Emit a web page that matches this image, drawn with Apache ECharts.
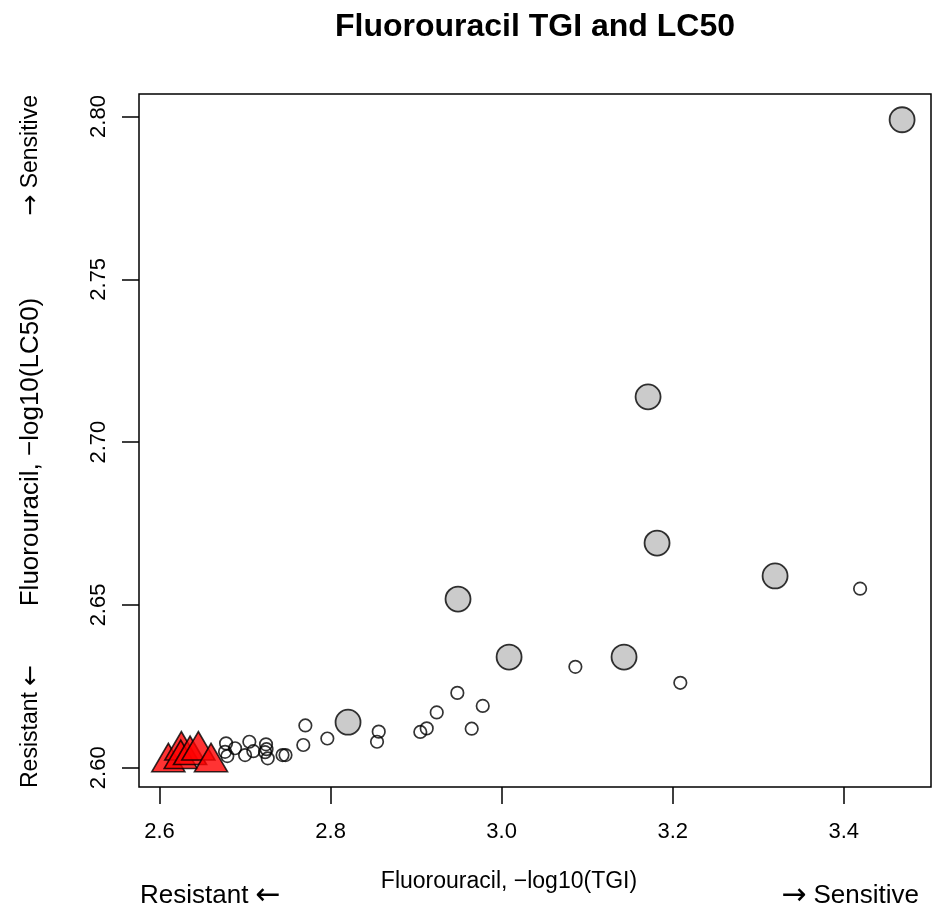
<!DOCTYPE html>
<html>
<head>
<meta charset="utf-8">
<script src="https://cdn.jsdelivr.net/npm/echarts@6/dist/echarts.min.js"></script>
<style>
  html, body { margin: 0; padding: 0; background: #ffffff; }
  #chart { width: 933px; height: 921px; }
</style>
</head>
<body>
<div id="chart"></div>
<script>
// Fluorouracil response: -log10(TGI) on x, -log10(LC50) on y
const resistantTGI  = [2.6103, 2.6255, 2.6248, 2.6357, 2.6454, 2.6602];
const resistantLC50 = [2.6017, 2.6053, 2.6027, 2.6039, 2.6053, 2.6017];

const middleTGI  = [3.4191, 3.0862, 3.2089, 2.9482, 2.9779, 2.9241, 2.9650, 2.9124, 2.9049,
                    2.8563, 2.8543, 2.7962, 2.7705, 2.7681, 2.7438, 2.7473, 2.7245, 2.7251,
                    2.7265, 2.7234, 2.7097, 2.7050, 2.7000, 2.6883, 2.6778, 2.6793, 2.6766];
const middleLC50 = [2.6550, 2.6310, 2.6261, 2.6230, 2.6190, 2.6170, 2.6120, 2.6121, 2.6110,
                    2.6111, 2.6080, 2.6090, 2.6130, 2.6070, 2.6039, 2.6039, 2.6072, 2.6057,
                    2.6029, 2.6048, 2.6051, 2.6080, 2.6039, 2.6060, 2.6075, 2.6036, 2.6049];

const sensitiveTGI  = [3.4682, 3.1712, 3.1817, 3.3197, 2.9490, 3.0087, 3.1431, 2.8204];
const sensitiveLC50 = [2.7990, 2.7139, 2.6690, 2.6589, 2.6518, 2.6340, 2.6340, 2.6140];

const xTicks = [2.6, 2.8, 3.0, 3.2, 3.4];
const yTicks = [2.60, 2.65, 2.70, 2.75, 2.80];

const FONT = '"Liberation Sans", Arial, Helvetica, sans-serif';
const ARROW_FONT = '"DejaVu Sans", sans-serif';

function pairs(xs, ys) { return xs.map((x, i) => [x, ys[i]]); }

// label with a long arrow glyph set in a font that draws it full width
function arrowText(x, y, rot, align, word, arrowFirst, size, arrowSize) {
  const arrow = arrowFirst ? '\u2192' : '\u2190';
  const text = arrowFirst ? '{a|' + arrow + '} ' + word : word + ' {a|' + arrow + '}';
  return {
    type: 'text', x: x, y: y, rotation: rot,
    style: {
      text: text, fill: '#000000', font: size + 'px ' + FONT,
      textAlign: align, textVerticalAlign: 'middle',
      rich: { a: { fontFamily: ARROW_FONT, fontSize: arrowSize, fill: '#000000' } }
    }
  };
}

const chart = echarts.init(document.getElementById('chart'), null, { renderer: 'canvas' });

chart.setOption({
  backgroundColor: '#ffffff',
  animation: false,
  grid: {
    left: 139, top: 94, width: 792, height: 693,
    show: true, borderColor: '#000000', borderWidth: 1.5,
    backgroundColor: 'transparent'
  },
  xAxis: {
    type: 'value', min: 2.576, max: 3.502,
    axisLine: { show: false },
    splitLine: { show: false },
    axisTick: { show: true, inside: false, length: 17, customValues: xTicks,
                lineStyle: { color: '#000000', width: 1.5 } },
    axisLabel: { show: true, customValues: xTicks, margin: 34, color: '#000000',
                 fontFamily: FONT, fontSize: 22,
                 formatter: v => v.toFixed(1) }
  },
  yAxis: {
    type: 'value', min: 2.5941, max: 2.8069,
    axisLine: { show: false },
    splitLine: { show: false },
    axisTick: { show: true, inside: false, length: 17, customValues: yTicks,
                lineStyle: { color: '#000000', width: 1.5 } },
    axisLabel: { show: true, customValues: yTicks, margin: 29, rotate: 90, color: '#000000',
                 fontFamily: FONT, fontSize: 22,
                 formatter: v => v.toFixed(2) }
  },
  series: [
    {
      name: 'Resistant', type: 'scatter',
      data: pairs(resistantTGI, resistantLC50),
      symbol: 'triangle', symbolSize: [33, 28.4], symbolOffset: [0, -4.7],
      itemStyle: { color: '#ff0000', borderColor: '#000000', borderWidth: 1.6 },
      z: 2
    },
    {
      name: 'Intermediate', type: 'scatter',
      data: pairs(middleTGI, middleLC50),
      symbol: 'circle', symbolSize: 12.5,
      itemStyle: { color: 'rgba(0,0,0,0)', borderColor: '#000000', borderWidth: 1.7 },
      z: 3
    },
    {
      name: 'Sensitive', type: 'scatter',
      data: pairs(sensitiveTGI, sensitiveLC50),
      symbol: 'circle', symbolSize: 25,
      itemStyle: { color: '#bebebe', borderColor: '#000000', borderWidth: 1.8 },
      z: 4
    }
  ],
  graphic: [
    { type: 'text', x: 535, y: 27,
      style: { text: 'Fluorouracil TGI and LC50', fill: '#000000', font: 'bold 32px ' + FONT,
               textAlign: 'center', textVerticalAlign: 'middle' } },
    { type: 'text', x: 509, y: 882,
      style: { text: 'Fluorouracil, \u2212log10(TGI)', fill: '#000000', font: '23px ' + FONT,
               textAlign: 'center', textVerticalAlign: 'middle' } },
    arrowText(140, 896, 0, 'left', 'Resistant', false, 26, 30),
    arrowText(919, 896, 0, 'right', 'Sensitive', true, 26, 30),
    { type: 'text', x: 31, y: 452, rotation: Math.PI / 2,
      style: { text: 'Fluorouracil, \u2212log10(LC50)', fill: '#000000', font: '26px ' + FONT,
               textAlign: 'center', textVerticalAlign: 'middle' } },
    arrowText(31, 788, Math.PI / 2, 'left', 'Resistant', false, 23, 25),
    arrowText(31, 95, Math.PI / 2, 'right', 'Sensitive', true, 23, 25)
  ]
});
</script>
</body>
</html>
